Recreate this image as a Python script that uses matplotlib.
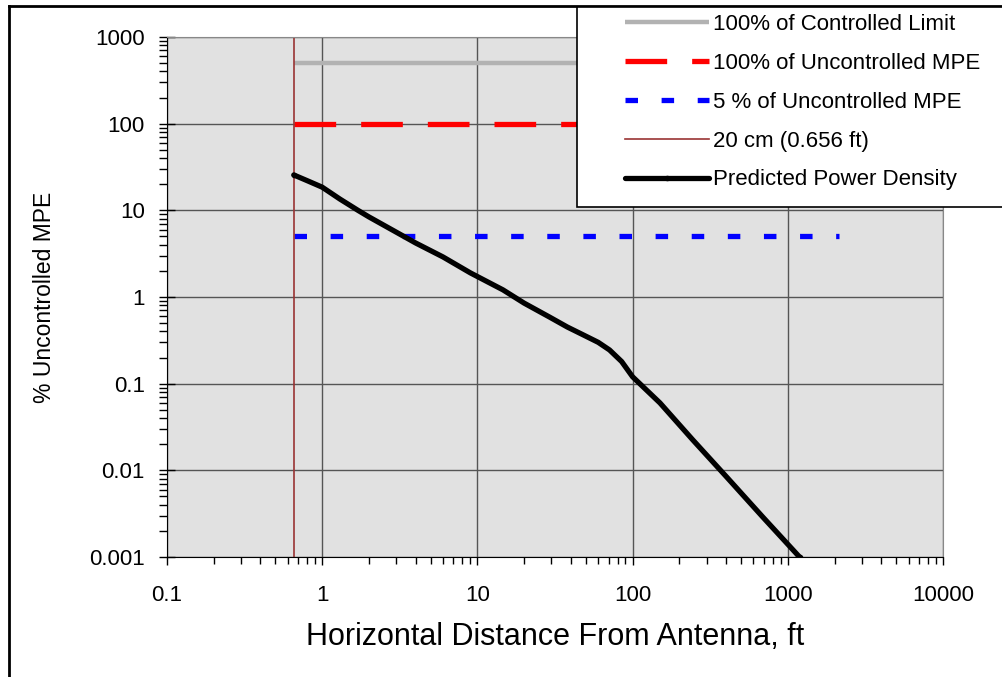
import numpy as np
import matplotlib
matplotlib.use("Agg")
from matplotlib import pyplot as plt
from matplotlib.lines import Line2D
from matplotlib.patches import Rectangle

plt.rcParams['font.family'] = ['Liberation Sans', 'DejaVu Sans']
plt.rcParams['lines.scale_dashes'] = False

# data
dist_ft = [0.656, 0.8, 1.0, 1.3, 1.7, 2.0, 3.0, 4.0, 6.0, 9.0, 14.6, 20, 29, 38,
           48, 60, 71, 85, 100, 150, 244, 403, 689, 1190]
power_pct = [25.6, 22, 18.5, 13.5, 10, 8.4, 5.6, 4.2, 2.9, 1.9, 1.21, 0.85, 0.59,
             0.45, 0.366, 0.30, 0.245, 0.18, 0.12, 0.06, 0.0225, 0.0084, 0.0029, 0.001]
limit_x = [0.656, 2150]
controlled = [500, 500]
uncontrolled = [100, 100]
five_pct = [5, 5]
cm20_x = [0.656, 0.656]
cm20_y = [0.001, 1000]

fig = plt.figure(figsize=(10.02, 6.77), dpi=100)
ax = fig.add_axes([167/1002, 1-557/677, 776/1002, 520/677])
ax.set_facecolor('#e1e1e1')

ax.plot(limit_x, controlled, color='#b2b2b2', lw=3.2, solid_capstyle='butt',
        label='100% of Controlled Limit')
ax.plot(limit_x, uncontrolled, color='#ff0000', lw=3.8, dashes=(30, 18),
        dash_capstyle='butt', label='100% of Uncontrolled MPE')
ax.plot(limit_x, five_pct, color='#0000ff', lw=3.8, dashes=(9, 17),
        dash_capstyle='butt', label='5 % of Uncontrolled MPE')
ax.plot(cm20_x, cm20_y, color='#993333', lw=1.2, label='20 cm (0.656 ft)')
ax.plot(dist_ft, power_pct, color='black', lw=3.8, solid_capstyle='round',
        marker='o', markersize=3, markevery=[0, len(dist_ft)-1],
        label='Predicted Power Density')

ax.set_xscale('log')
ax.set_yscale('log')
ax.set_xlim(0.1, 10000)
ax.set_ylim(0.001, 1000)
ax.set_xticks([0.1, 1, 10, 100, 1000, 10000])
ax.set_xticklabels(['0.1', '1', '10', '100', '1000', '10000'])
ax.set_yticks([0.001, 0.01, 0.1, 1, 10, 100, 1000])
ax.set_yticklabels(['0.001', '0.01', '0.1', '1', '10', '100', '1000'])
ax.grid(True, which='major', color='#555555', lw=1)
ax.set_axisbelow(True)

ax.tick_params(axis='x', which='major', direction='out', length=6, width=1,
               pad=14, labelsize=16)
ax.tick_params(axis='x', which='minor', direction='out', length=5, width=1)
ax.tick_params(axis='y', which='major', direction='inout', length=12, width=1,
               pad=10, labelsize=16)
ax.tick_params(axis='y', which='minor', direction='out', length=6, width=1)

for s in ['top', 'right']:
    ax.spines[s].set_color('#888888')
for s in ['left', 'bottom']:
    ax.spines[s].set_color('black')

ax.set_xlabel('Horizontal Distance From Antenna, ft', fontsize=22, va='center')
ax.set_ylabel('% Uncontrolled MPE', fontsize=16.5, va='center')
ax.xaxis.set_label_coords(0.5, (557-637)/520)
ax.yaxis.set_label_coords((45-167)/776, 0.5)

# legend box
fig.patches.append(Rectangle((577/1002, 1-207/677), 0.6, 200/677,
                             transform=fig.transFigure, facecolor='white',
                             edgecolor='black', lw=1.2, zorder=5))
handles, labels = ax.get_legend_handles_labels()
leg = fig.legend(handles, labels, loc='upper left',
                 bbox_to_anchor=(623/1002, 1-12/677), frameon=False,
                 fontsize=16, handlelength=3.75, handletextpad=0.18,
                 labelspacing=0.8, borderaxespad=0, borderpad=0.1)
leg.set_zorder(6)

# figure border
fig.add_artist(Line2D([9/1002, 9/1002], [0, 1-6/677], transform=fig.transFigure,
                      color='black', lw=2))
fig.add_artist(Line2D([9/1002, 1], [1-6/677, 1-6/677], transform=fig.transFigure,
                      color='black', lw=2))

fig.savefig('out.png', dpi=100)
